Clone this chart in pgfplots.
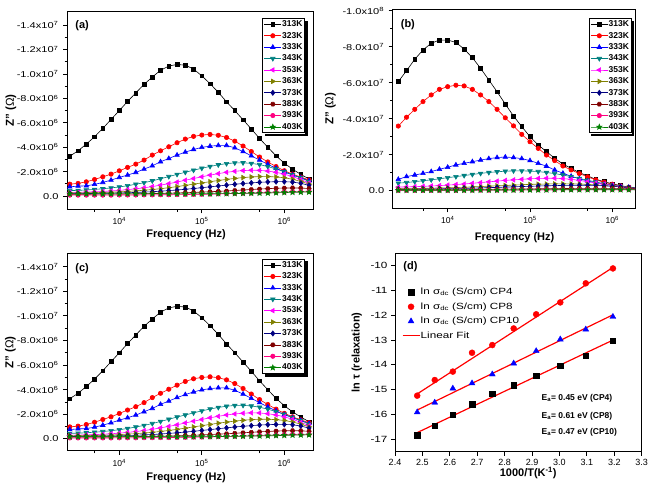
\documentclass[border=0pt]{standalone}
\usepackage{fontspec}
\setmainfont{Liberation Sans}
\newfontfamily\widefont{Liberation Sans}[FakeStretch=1.3]
\usepackage{pgfplots}
\pgfplotsset{compat=1.18}
\usepackage{pgfplotstable}

\definecolor{cteal}{RGB}{0,128,128}
\definecolor{colive}{RGB}{128,128,0}
\definecolor{cnavy}{RGB}{0,0,128}
\definecolor{cwine}{RGB}{128,0,0}
\definecolor{cpink}{RGB}{255,0,128}
\definecolor{cgreen}{RGB}{0,128,0}
\definecolor{cred}{RGB}{255,0,0}
\definecolor{cblue}{RGB}{0,0,255}
\definecolor{cmag}{RGB}{255,0,255}

\pgfdeclareplotmark{fhex}{%
  \pgfpathmoveto{\pgfpointpolar{0}{\pgfplotmarksize}}%
  \pgfpathlineto{\pgfpointpolar{60}{\pgfplotmarksize}}%
  \pgfpathlineto{\pgfpointpolar{120}{\pgfplotmarksize}}%
  \pgfpathlineto{\pgfpointpolar{180}{\pgfplotmarksize}}%
  \pgfpathlineto{\pgfpointpolar{240}{\pgfplotmarksize}}%
  \pgfpathlineto{\pgfpointpolar{300}{\pgfplotmarksize}}%
  \pgfpathclose\pgfusepathqfillstroke}
\pgfdeclareplotmark{fstar}{%
  \pgfpathmoveto{\pgfpointpolar{90}{1.2\pgfplotmarksize}}%
  \pgfpathlineto{\pgfpointpolar{126}{0.5\pgfplotmarksize}}%
  \pgfpathlineto{\pgfpointpolar{162}{1.2\pgfplotmarksize}}%
  \pgfpathlineto{\pgfpointpolar{198}{0.5\pgfplotmarksize}}%
  \pgfpathlineto{\pgfpointpolar{234}{1.2\pgfplotmarksize}}%
  \pgfpathlineto{\pgfpointpolar{270}{0.5\pgfplotmarksize}}%
  \pgfpathlineto{\pgfpointpolar{306}{1.2\pgfplotmarksize}}%
  \pgfpathlineto{\pgfpointpolar{342}{0.5\pgfplotmarksize}}%
  \pgfpathlineto{\pgfpointpolar{18}{1.2\pgfplotmarksize}}%
  \pgfpathlineto{\pgfpointpolar{54}{0.5\pgfplotmarksize}}%
  \pgfpathclose\pgfusepathqfillstroke}

\pgfplotstableread{
f k313 k323 k333 k343 k353 k363 k373 k383 k393 k403
2512 3.27 0.98 0.76 0.45 0.30 0.25 0.20 0.15 0.08 0.18
3162 3.71 1.04 0.82 0.47 0.31 0.26 0.20 0.15 0.08 0.18
3981 4.26 1.17 0.84 0.50 0.33 0.27 0.21 0.15 0.08 0.18
5012 4.86 1.36 0.96 0.55 0.35 0.28 0.22 0.16 0.08 0.18
6310 5.54 1.58 1.12 0.60 0.38 0.30 0.23 0.16 0.08 0.18
7943 6.28 1.80 1.31 0.67 0.42 0.32 0.24 0.16 0.08 0.18
10000 7.00 2.07 1.53 0.75 0.47 0.35 0.26 0.17 0.09 0.18
12589 7.75 2.35 1.72 0.85 0.53 0.39 0.28 0.18 0.09 0.18
15849 8.45 2.62 1.94 0.97 0.60 0.43 0.30 0.19 0.09 0.18
19953 9.15 2.95 2.21 1.10 0.68 0.48 0.33 0.20 0.10 0.18
25119 9.75 3.36 2.48 1.25 0.78 0.54 0.36 0.21 0.10 0.18
31623 10.30 3.71 2.81 1.42 0.90 0.61 0.40 0.22 0.11 0.18
39811 10.65 4.04 3.08 1.60 1.02 0.69 0.45 0.24 0.11 0.18
50119 10.78 4.37 3.36 1.78 1.15 0.78 0.50 0.26 0.12 0.18
63096 10.72 4.67 3.60 1.95 1.30 0.88 0.56 0.28 0.13 0.18
79433 10.40 4.89 3.82 2.12 1.44 0.98 0.62 0.30 0.14 0.18
100000 9.85 5.00 3.99 2.28 1.58 1.08 0.69 0.33 0.15 0.19
125893 9.20 5.05 4.09 2.43 1.72 1.18 0.76 0.36 0.16 0.19
158489 8.50 4.98 4.15 2.56 1.84 1.28 0.83 0.39 0.18 0.20
199526 7.72 4.80 4.15 2.66 1.95 1.37 0.90 0.42 0.20 0.20
251189 7.00 4.50 3.95 2.72 2.03 1.45 0.97 0.46 0.22 0.21
316228 6.25 4.10 3.65 2.73 2.09 1.52 1.03 0.50 0.24 0.22
398107 5.50 3.65 3.30 2.68 2.12 1.57 1.08 0.54 0.26 0.23
501187 4.72 3.20 2.95 2.58 2.11 1.60 1.13 0.58 0.28 0.24
630957 4.00 2.80 2.60 2.42 2.05 1.60 1.16 0.61 0.30 0.25
794328 3.30 2.42 2.28 2.22 1.95 1.57 1.18 0.64 0.32 0.27
1000000 2.70 2.08 1.98 2.00 1.80 1.50 1.18 0.66 0.34 0.29
1258925 2.20 1.80 1.72 1.75 1.60 1.38 1.15 0.67 0.36 0.31
1584893 1.78 1.55 1.50 1.50 1.35 1.20 1.05 0.66 0.37 0.32
1995262 1.40 1.33 1.26 1.20 1.08 0.98 0.88 0.62 0.37 0.33
}\tabA

\pgfplotstableread{
f k313 k323 k333 k343 k353 k363 k373 k383 k393 k403
2512 6.06 3.59 0.63 0.42 0.20 0.10 0.08 0.05 0.02 0.02
3162 6.67 4.08 0.78 0.45 0.21 0.11 0.08 0.05 0.02 0.02
3981 7.30 4.52 0.87 0.50 0.22 0.12 0.09 0.05 0.02 0.02
5012 7.82 4.95 0.96 0.55 0.24 0.13 0.09 0.05 0.02 0.02
6310 8.19 5.32 1.06 0.60 0.26 0.14 0.10 0.05 0.02 0.02
7943 8.37 5.63 1.19 0.66 0.28 0.15 0.10 0.05 0.02 0.02
10000 8.37 5.78 1.30 0.72 0.31 0.16 0.11 0.06 0.02 0.02
12589 8.24 5.86 1.43 0.78 0.34 0.17 0.12 0.06 0.02 0.02
15849 7.87 5.82 1.52 0.84 0.37 0.19 0.13 0.06 0.03 0.02
19953 7.39 5.63 1.61 0.90 0.41 0.21 0.14 0.06 0.03 0.02
25119 6.80 5.32 1.70 0.96 0.45 0.23 0.15 0.07 0.03 0.03
31623 6.15 4.95 1.78 1.01 0.49 0.25 0.17 0.07 0.03 0.03
39811 5.50 4.52 1.84 1.05 0.53 0.27 0.18 0.08 0.03 0.03
50119 4.81 4.05 1.87 1.08 0.57 0.29 0.20 0.08 0.04 0.03
63096 4.15 3.60 1.84 1.10 0.60 0.31 0.21 0.09 0.04 0.03
79433 3.56 3.13 1.78 1.10 0.63 0.33 0.23 0.09 0.04 0.04
100000 3.00 2.72 1.67 1.09 0.66 0.35 0.24 0.10 0.05 0.04
125893 2.54 2.35 1.52 1.06 0.68 0.36 0.26 0.10 0.05 0.04
158489 2.17 1.98 1.36 1.01 0.69 0.37 0.27 0.11 0.05 0.04
199526 1.80 1.67 1.15 0.95 0.69 0.38 0.28 0.11 0.05 0.05
251189 1.48 1.37 0.97 0.87 0.67 0.38 0.29 0.12 0.06 0.05
316228 1.24 1.15 0.80 0.78 0.63 0.38 0.30 0.12 0.06 0.05
398107 1.00 0.95 0.66 0.68 0.57 0.37 0.30 0.13 0.06 0.05
501187 0.82 0.77 0.54 0.58 0.50 0.35 0.30 0.13 0.06 0.05
630957 0.63 0.60 0.44 0.48 0.43 0.32 0.29 0.13 0.06 0.05
794328 0.50 0.47 0.36 0.39 0.36 0.29 0.27 0.13 0.06 0.05
1000000 0.38 0.36 0.29 0.31 0.29 0.25 0.24 0.13 0.06 0.05
1258925 0.28 0.27 0.23 0.24 0.23 0.21 0.21 0.12 0.06 0.05
1584893 0.20 0.19 0.18 0.18 0.17 0.17 0.17 0.11 0.06 0.05
1995262 0.13 0.13 0.14 0.13 0.12 0.13 0.13 0.10 0.05 0.05
}\tabB

\pgfplotstableread{
x cp4 cp8 cp10
2.481 -16.83 -15.24 -15.91
2.545 -16.46 -14.61 -15.52
2.611 -16.02 -14.27 -14.95
2.681 -15.59 -13.51 -14.74
2.755 -15.15 -13.20 -14.38
2.833 -14.82 -12.53 -13.94
2.915 -14.43 -11.96 -13.44
3.003 -14.04 -11.48 -12.97
3.096 -13.64 -10.71 -12.57
3.195 -13.02 -10.11 -12.06
}\tabD

\pgfplotsset{
  s313/.style={black, mark=square*, mark size=1.9pt, line width=0.6pt},
  s323/.style={cred, mark=*, mark size=2.2pt, line width=0.6pt},
  s333/.style={cblue, mark=triangle*, mark size=2.6pt, line width=0.6pt},
  s343/.style={cteal, mark=triangle*, mark size=2.6pt, mark options={rotate=180}, line width=0.6pt},
  s353/.style={cmag, mark=triangle*, mark size=2.6pt, mark options={rotate=90}, line width=0.6pt},
  s363/.style={colive, mark=triangle*, mark size=2.6pt, mark options={rotate=-90}, line width=0.6pt},
  s373/.style={cnavy, mark=diamond*, mark size=2.6pt, line width=0.6pt},
  s383/.style={cwine, mark=fhex, mark size=2.2pt, line width=0.6pt},
  s393/.style={cpink, mark=*, mark size=2.2pt, line width=0.6pt},
  s403/.style={cgreen, mark=fstar, mark size=2.3pt, line width=0.6pt},
}

\begin{document}
\begin{tikzpicture}
\useasboundingbox (0,0) rectangle (651pt,487pt);

% (a)
\begin{axis}[xmode=log, scale only axis, at={(67pt,277.7pt)}, anchor=south west,
  width=246pt, height=197.6pt,
  xmin=2323, xmax=2.228e6, ymin=-1.08, ymax=15.1,
  tick align=outside, tick pos=left,
  axis line style={line width=1pt},
  major tick style={line width=0.9pt, black}, minor tick style={line width=0.8pt, black},
  major tick length=4pt, minor tick length=2.5pt,
  xtick={1e4,1e5,1e6},
  xticklabels={10\textsuperscript{4},10\textsuperscript{5},10\textsuperscript{6}},
  minor xtick={5e3,5e4,5e5},
  minor y tick num=1,
  xticklabel style={font=\fontsize{8.5}{10}\selectfont, yshift=-1pt},
  yticklabel style={font=\widefont\fontsize{8.5}{10}\selectfont, xshift=-1pt},
  ytick={0,2,4,6,8,10,12,14},
  yticklabels={0.0,-2.0x10\textsuperscript{6},-4.0x10\textsuperscript{6},-6.0x10\textsuperscript{6},-8.0x10\textsuperscript{6},-1.0x10\textsuperscript{7},-1.2x10\textsuperscript{7},-1.4x10\textsuperscript{7}},
  xlabel={Frequency (Hz)},
  ylabel={Z" (\textmd{Ω})},
  xlabel style={font=\bfseries\fontsize{11}{13}\selectfont, anchor=center, at={(axis description cs:0.484,-0.13)}},
  ylabel style={font=\bfseries\fontsize{11.5}{13}\selectfont, anchor=center, at={(axis description cs:-0.228,0.5)}},
  legend cell align=left,
  legend style={name=legA, draw=black, line width=0.8pt, fill=white, anchor=north east, at={(0.967,0.967)},
    font=\bfseries\fontsize{8.5}{9}\selectfont,
    inner xsep=1.5pt, inner ysep=1.5pt, row sep=2.9pt,
    nodes={inner sep=0.5pt, text height=6pt, text depth=1.5pt}}]
\addplot[s313] table[x=f,y=k313]{\tabA};
\addplot[s323] table[x=f,y=k323]{\tabA};
\addplot[s333] table[x=f,y=k333]{\tabA};
\addplot[s343] table[x=f,y=k343]{\tabA};
\addplot[s353] table[x=f,y=k353]{\tabA};
\addplot[s363] table[x=f,y=k363]{\tabA};
\addplot[s373] table[x=f,y=k373]{\tabA};
\addplot[s383] table[x=f,y=k383]{\tabA};
\addplot[s393] table[x=f,y=k393]{\tabA};
\addplot[s403] table[x=f,y=k403]{\tabA};
\legend{313K,323K,333K,343K,353K,363K,373K,383K,393K,403K}
\node[font=\bfseries\fontsize{11}{13}\selectfont, anchor=west] at (rel axis cs:0.02,0.931) {(a)};
\end{axis}
\fill[black] ([xshift=0.4pt,yshift=-2.5pt]legA.north east) rectangle ([xshift=2.9pt,yshift=-2.9pt]legA.south east);
\fill[black] ([xshift=2.5pt,yshift=-0.4pt]legA.south west) rectangle ([xshift=2.9pt,yshift=-2.9pt]legA.south east);

% (b)
\begin{axis}[xmode=log, scale only axis, at={(392.7pt,278.7pt)}, anchor=south west,
  width=242.3pt, height=199pt,
  xmin=2148, xmax=1.888e6, ymin=-0.98, ymax=10.08,
  tick align=outside, tick pos=left,
  axis line style={line width=1pt},
  major tick style={line width=0.9pt, black}, minor tick style={line width=0.8pt, black},
  major tick length=4pt, minor tick length=2.5pt,
  xtick={1e4,1e5,1e6},
  xticklabels={10\textsuperscript{4},10\textsuperscript{5},10\textsuperscript{6}},
  minor xtick={5e3,5e4,5e5},
  minor y tick num=1,
  xticklabel style={font=\fontsize{8.5}{10}\selectfont, yshift=-1pt},
  yticklabel style={font=\widefont\fontsize{8.5}{10}\selectfont, xshift=-1pt},
  ytick={0,2,4,6,8,10},
  yticklabels={0.0,-2.0x10\textsuperscript{7},-4.0x10\textsuperscript{7},-6.0x10\textsuperscript{7},-8.0x10\textsuperscript{7},-1.0x10\textsuperscript{8}},
  xlabel={Frequency (Hz)},
  ylabel={Z" (\textmd{Ω})},
  xlabel style={font=\bfseries\fontsize{11}{13}\selectfont, anchor=center, at={(axis description cs:0.503,-0.146)}},
  ylabel style={font=\bfseries\fontsize{11.5}{13}\selectfont, anchor=center, at={(axis description cs:-0.257,0.5)}},
  legend cell align=left,
  legend style={name=legB, draw=black, line width=0.8pt, fill=white, anchor=north east, at={(0.985,0.955)},
    font=\bfseries\fontsize{8.5}{9}\selectfont,
    inner xsep=1.5pt, inner ysep=1.5pt, row sep=2.9pt,
    nodes={inner sep=0.5pt, text height=6pt, text depth=1.5pt}}]
\addplot[s313] table[x=f,y=k313]{\tabB};
\addplot[s323] table[x=f,y=k323]{\tabB};
\addplot[s333] table[x=f,y=k333]{\tabB};
\addplot[s343] table[x=f,y=k343]{\tabB};
\addplot[s353] table[x=f,y=k353]{\tabB};
\addplot[s363] table[x=f,y=k363]{\tabB};
\addplot[s373] table[x=f,y=k373]{\tabB};
\addplot[s383] table[x=f,y=k383]{\tabB};
\addplot[s393] table[x=f,y=k393]{\tabB};
\addplot[s403] table[x=f,y=k403]{\tabB};
\legend{313K,323K,333K,343K,353K,363K,373K,383K,393K,403K}
\node[font=\bfseries\fontsize{11}{13}\selectfont, anchor=west] at (rel axis cs:0.019,0.923) {(b)};
\end{axis}
\fill[black] ([xshift=0.4pt,yshift=-2.5pt]legB.north east) rectangle ([xshift=2.9pt,yshift=-2.9pt]legB.south east);
\fill[black] ([xshift=2.5pt,yshift=-0.4pt]legB.south west) rectangle ([xshift=2.9pt,yshift=-2.9pt]legB.south east);

% (c)
\begin{axis}[xmode=log, scale only axis, at={(67pt,36pt)}, anchor=south west,
  width=246pt, height=197pt,
  xmin=2323, xmax=2.228e6, ymin=-0.98, ymax=15.03,
  tick align=outside, tick pos=left,
  axis line style={line width=1pt},
  major tick style={line width=0.9pt, black}, minor tick style={line width=0.8pt, black},
  major tick length=4pt, minor tick length=2.5pt,
  xtick={1e4,1e5,1e6},
  xticklabels={10\textsuperscript{4},10\textsuperscript{5},10\textsuperscript{6}},
  minor xtick={5e3,5e4,5e5},
  minor y tick num=1,
  xticklabel style={font=\fontsize{8.5}{10}\selectfont, yshift=-1pt},
  yticklabel style={font=\widefont\fontsize{8.5}{10}\selectfont, xshift=-1pt},
  ytick={0,2,4,6,8,10,12,14},
  yticklabels={0.0,-2.0x10\textsuperscript{6},-4.0x10\textsuperscript{6},-6.0x10\textsuperscript{6},-8.0x10\textsuperscript{6},-1.0x10\textsuperscript{7},-1.2x10\textsuperscript{7},-1.4x10\textsuperscript{7}},
  xlabel={Frequency (Hz)},
  ylabel={Z" (\textmd{Ω})},
  xlabel style={font=\bfseries\fontsize{11}{13}\selectfont, anchor=center, at={(axis description cs:0.484,-0.134)}},
  ylabel style={font=\bfseries\fontsize{11.5}{13}\selectfont, anchor=center, at={(axis description cs:-0.23,0.5)}},
  legend cell align=left,
  legend style={name=legC, draw=black, line width=0.8pt, fill=white, anchor=north east, at={(0.967,0.975)},
    font=\bfseries\fontsize{8.5}{9}\selectfont,
    inner xsep=1.5pt, inner ysep=1.5pt, row sep=2.9pt,
    nodes={inner sep=0.5pt, text height=6pt, text depth=1.5pt}}]
\addplot[s313] table[x=f,y=k313]{\tabA};
\addplot[s323] table[x=f,y=k323]{\tabA};
\addplot[s333] table[x=f,y=k333]{\tabA};
\addplot[s343] table[x=f,y=k343]{\tabA};
\addplot[s353] table[x=f,y=k353]{\tabA};
\addplot[s363] table[x=f,y=k363]{\tabA};
\addplot[s373] table[x=f,y=k373]{\tabA};
\addplot[s383] table[x=f,y=k383]{\tabA};
\addplot[s393] table[x=f,y=k393]{\tabA};
\addplot[s403] table[x=f,y=k403]{\tabA};
\legend{313K,323K,333K,343K,353K,363K,373K,383K,393K,403K}
\node[font=\bfseries\fontsize{11}{13}\selectfont, anchor=west] at (rel axis cs:0.02,0.925) {(c)};
\end{axis}
\fill[black] ([xshift=0.4pt,yshift=-2.5pt]legC.north east) rectangle ([xshift=2.9pt,yshift=-2.9pt]legC.south east);
\fill[black] ([xshift=2.5pt,yshift=-0.4pt]legC.south west) rectangle ([xshift=2.9pt,yshift=-2.9pt]legC.south east);

% (d)
\begin{axis}[scale only axis, at={(395pt,35.3pt)}, anchor=south west,
  width=246.7pt, height=198.4pt,
  xmin=2.4, xmax=3.3, ymin=-17.5, ymax=-9.5,
  tick align=outside, tick pos=left,
  axis line style={line width=1pt},
  major tick style={line width=0.9pt, black}, major tick length=4pt,
  xtick={2.4,2.5,2.6,2.7,2.8,2.9,3.0,3.1,3.2,3.3},
  xticklabels={2.4,2.5,2.6,2.7,2.8,2.9,3.0,3.1,3.2,3.3},
  ytick={-17,-16,-15,-14,-13,-12,-11,-10},
  yticklabels={-17,-16,-15,-14,-13,-12,-11,-10},
  xticklabel style={font=\fontsize{9}{10}\selectfont},
  yticklabel style={font=\widefont\fontsize{9}{10}\selectfont},
  xlabel={1000/T(K\textsuperscript{-1})},
  ylabel={ln τ (relaxation)},
  xlabel style={font=\bfseries\fontsize{11}{13}\selectfont, anchor=center, at={(axis description cs:0.54,-0.109)}},
  ylabel style={font=\bfseries\fontsize{11}{13}\selectfont, anchor=center, at={(axis description cs:-0.155,0.5)}},
  legend cell align=left,
  legend style={draw=none, fill=none, at={(0.015,0.84)}, anchor=north west,
    font=\widefont\fontsize{9}{10}\selectfont, row sep=4.5pt,
    nodes={inner sep=0.5pt, text height=7pt, text depth=2pt}}]
\addplot[only marks, black, mark=square*, mark size=2.7pt] table[x=x,y=cp4]{\tabD};
\addlegendentry{ln σ\textsubscript{dc} (S/cm) CP4}
\addplot[only marks, cred, mark=*, mark size=3pt] table[x=x,y=cp8]{\tabD};
\addlegendentry{ln σ\textsubscript{dc} (S/cm) CP8}
\addplot[only marks, cblue, mark=triangle*, mark size=3.4pt] table[x=x,y=cp10]{\tabD};
\addlegendentry{ln σ\textsubscript{dc} (S/cm) CP10}
\addlegendimage{legend image code/.code={%
  \pgfsetstrokecolor{cred}\pgfsetlinewidth{1.2pt}%
  \pgfpathmoveto{\pgfpoint{0cm}{0cm}}\pgfpathlineto{\pgfpoint{0.6cm}{0cm}}%
  \pgfusepath{stroke}}}
\addlegendentry{Linear Fit}
\addplot[red, line width=1.2pt, no marks, forget plot] coordinates {(2.481,-16.73) (3.195,-13.00)};
\addplot[red, line width=1.2pt, no marks, forget plot] coordinates {(2.481,-15.17) (3.195,-10.07)};
\addplot[red, line width=1.2pt, no marks, forget plot] coordinates {(2.481,-15.82) (3.195,-11.98)};
\node[font=\bfseries\fontsize{11}{13}\selectfont, anchor=west] at (rel axis cs:0.02,0.932) {(d)};
\node[font=\bfseries\fontsize{8.5}{10}\selectfont, anchor=west] at (axis cs:2.922,-15.33) {E\textsubscript{a}= 0.45 eV (CP4)};
\node[font=\bfseries\fontsize{8.5}{10}\selectfont, anchor=west] at (axis cs:2.922,-16.06) {E\textsubscript{a}= 0.61 eV (CP8)};
\node[font=\bfseries\fontsize{8.5}{10}\selectfont, anchor=west] at (axis cs:2.922,-16.73) {E\textsubscript{a}= 0.47 eV (CP10)};
\end{axis}
\end{tikzpicture}
\end{document}
